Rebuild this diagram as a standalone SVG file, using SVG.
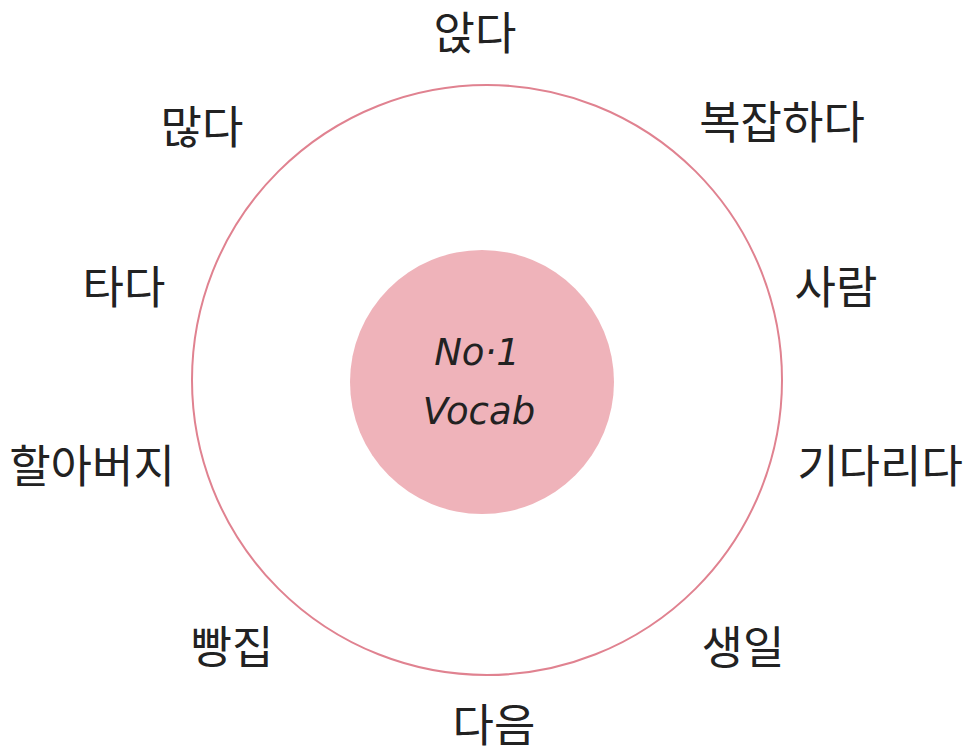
<svg xmlns="http://www.w3.org/2000/svg" width="968" height="750" viewBox="0 0 968 750">
<style>
.lbl{font-family:"Noto Sans CJK KR","Noto Sans",sans-serif;font-size:45px;fill:#222;text-anchor:middle;dominant-baseline:central}
.ctr{font-family:"DejaVu Sans","Liberation Sans",sans-serif;font-style:italic;font-size:37px;fill:#222;text-anchor:middle}
</style>
<rect width="968" height="750" fill="#fff"/>
<g id="ring"><circle cx="487" cy="380" r="295" fill="none" stroke="#e08290" stroke-width="2"/></g>
<g id="center"><circle cx="482" cy="382" r="132" fill="#efb3ba"/>
<text class="ctr" x="477" y="365">No·1</text>
<text class="ctr" x="479" y="424">Vocab</text></g>
<g id="connectors"></g>
<g id="n1"><text class="lbl" x="475" y="30">앉다</text></g>
<g id="n2"><text class="lbl" x="782" y="119">복잡하다</text></g>
<g id="n3"><text class="lbl" x="836" y="284">사람</text></g>
<g id="n4"><text class="lbl" x="880" y="463">기다리다</text></g>
<g id="n5"><text class="lbl" x="743" y="644">생일</text></g>
<g id="n6"><text class="lbl" x="494" y="722">다음</text></g>
<g id="n7"><text class="lbl" x="232" y="644">빵집</text></g>
<g id="n8"><text class="lbl" x="92" y="463">할아버지</text></g>
<g id="n9"><text class="lbl" x="124" y="284">타다</text></g>
<g id="n10"><text class="lbl" x="202" y="124">많다</text></g>
</svg>
